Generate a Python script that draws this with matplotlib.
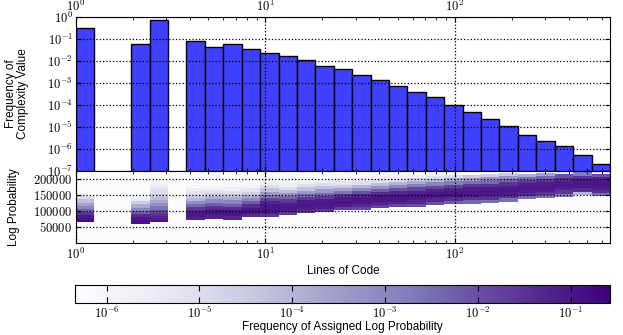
import numpy as np
import matplotlib
matplotlib.use("Agg")
import matplotlib.pyplot as plt
from matplotlib.colors import LogNorm
from matplotlib.ticker import FuncFormatter, FixedLocator

plt.rcParams["font.family"] = ["Liberation Sans", "DejaVu Sans"]
plt.rcParams["mathtext.fontset"] = "cm"
plt.rcParams["font.size"] = 9

# ---------------------------------------------------
# Data
# ---------------------------------------------------
loc_max = 660          # largest lines-of-code value
n_bins = 29            # log-spaced LOC bins

# frequency of complexity value per LOC bin (0 = empty bin)
freq = [0.32, 0, 0, 0.059, 0.73, 0, 0.081, 0.043, 0.057, 0.036,
        0.022, 0.017, 0.0115, 0.0061, 0.0045, 0.0022, 0.0014, 0.00071,
        0.00040, 0.00023, 9.6e-5, 4.8e-5, 2.4e-5, 1.05e-5, 4.4e-6,
        2.2e-6, 1.4e-6, 5.5e-7, 2.1e-7]

# log probability histogram per LOC bin: lowest value and log10 frequency
# of consecutive 10000-wide log probability cells going upward
logp_step = 10000
heat_lo = [66000, None, None, 60000, 64000, None, 71000, 76000, 73000, 80000,
           80000, 86000, 93000, 97000, 102000, 102000, 108000, 111000,
           113000, 119000, 122000, 123000, 125000, 129000, 136000, 139000,
           144000, 150000, 146000]
heat_logf = [
    [-0.8, -1.0, -1.5, -2.3, -3.0, -3.6, -4.2, -5.0],
    [],
    [],
    [-0.9, -1.0, -1.4, -2.2, -3.0, -3.8, -4.6, -5.5],
    [-1.0, -1.2, -1.5, -2.0, -2.6, -3.2, -3.7, -4.2, -4.6, -5.0, -5.3, -5.6, -5.9, -6.1],
    [],
    [-1.2, -1.0, -1.1, -1.6, -2.4, -3.2, -4.0, -4.6, -5.2, -5.6, -6.0, -6.2],
    [-1.2, -1.0, -1.1, -1.5, -2.3, -3.1, -3.9, -4.6, -5.2, -5.8, -6.1],
    [-1.3, -1.0, -1.0, -1.4, -2.2, -3.0, -3.8, -4.5, -5.1, -5.6, -6.0, -6.2],
    [-1.4, -1.0, -1.0, -1.4, -2.2, -3.0, -3.8, -4.6, -5.3, -5.9, -6.2],
    [-1.6, -1.1, -1.0, -1.0, -1.2, -1.8, -2.6, -3.5, -4.3, -5.0, -5.6, -6.1],
    [-1.6, -1.1, -1.0, -1.1, -1.6, -2.4, -3.3, -4.2, -5.0, -5.6, -6.0],
    [-1.6, -1.1, -1.0, -1.1, -1.6, -2.5, -3.4, -4.3, -5.0, -5.7],
    [-1.6, -1.1, -1.0, -1.1, -1.6, -2.5, -3.4, -4.3, -5.0, -5.7],
    [-1.7, -1.1, -1.0, -1.1, -1.6, -2.6, -3.6, -4.5, -5.3, -5.9],
    [-1.9, -1.3, -1.0, -1.0, -1.3, -2.0, -3.0, -4.0, -5.0, -5.8],
    [-1.8, -1.2, -1.0, -1.0, -1.4, -2.2, -3.2, -4.2, -5.1, -5.8],
    [-1.9, -1.2, -1.0, -1.0, -1.3, -2.0, -3.0, -4.0, -5.0, -5.8],
    [-2.0, -1.3, -1.0, -1.0, -1.2, -1.8, -2.8, -3.8, -4.8, -5.7],
    [-2.0, -1.3, -1.0, -1.0, -1.2, -1.9, -2.9, -4.0, -5.0, -5.8],
    [-2.2, -1.4, -1.0, -1.0, -1.2, -1.8, -2.8, -3.9, -5.0],
    [-2.4, -1.5, -1.1, -1.0, -1.1, -1.6, -2.5, -3.5, -4.5],
    [-2.5, -1.5, -1.1, -1.0, -1.1, -1.5, -2.4, -3.4, -4.6],
    [-2.5, -1.5, -1.1, -1.0, -1.1, -1.5, -2.3, -3.3, -4.5],
    [-2.5, -1.4, -1.1, -1.0, -1.1, -1.6, -2.6, -3.8],
    [-2.6, -1.5, -1.1, -1.0, -1.1, -1.5, -2.4, -3.6],
    [-2.8, -1.6, -1.2, -1.0, -1.1, -1.4, -2.0, -5.5],
    [-4.0, -1.4, -1.1, -1.0, -1.0, -1.5, -2.8],
    [-2.5, -1.4, -1.1, -1.0, -1.0, -1.3, -2.0, -5.5],
]

logp_ticks = [50000, 100000, 150000, 200000]
cbar_ticks = [1e-6, 1e-5, 1e-4, 1e-3, 1e-2, 1e-1]
freq_min, freq_max = 4.6e-7, 0.265

# ---------------------------------------------------
# Figure
# ---------------------------------------------------
edges = np.logspace(0, np.log10(loc_max), n_bins + 1)
cmap = plt.get_cmap("Purples")
norm = LogNorm(vmin=freq_min, vmax=freq_max)

pow_fmt = FuncFormatter(lambda v, p: r"$10^{%d}$" % round(np.log10(v)))
int_fmt = FuncFormatter(lambda v, p: r"$%d$" % v)

fig = plt.figure(figsize=(6.23, 3.35), dpi=100)
ax_top = fig.add_axes([0.122, 0.490, 0.857, 0.459])
ax_bot = fig.add_axes([0.122, 0.275, 0.857, 0.215])
cax = fig.add_axes([0.121, 0.096, 0.858, 0.053])

# top: histogram of complexity value frequency
heights = np.array(freq)
keep = heights > 0
ax_top.bar(edges[:-1][keep], heights[keep], width=np.diff(edges)[keep],
           align="edge", bottom=1e-9, color="#4040ff", edgecolor="black",
           linewidth=1.0, zorder=2)
ax_top.set_xscale("log")
ax_top.set_yscale("log")
ax_top.set_xlim(1, loc_max)
ax_top.set_ylim(1e-7, 1)
ax_top.yaxis.set_major_locator(FixedLocator([10.0 ** k for k in range(-7, 1)]))
ax_top.xaxis.set_major_formatter(pow_fmt)
ax_top.yaxis.set_major_formatter(pow_fmt)
ax_top.tick_params(which="both", direction="in", top=True, bottom=True,
                   left=True, right=True, labeltop=True, labelbottom=False,
                   pad=2)
ax_top.tick_params(which="minor", left=False, right=False)
ax_top.grid(True, which="major", linestyle=":", color="black", linewidth=0.9)
ax_top.set_axisbelow(False)
ax_top.set_ylabel("Frequency of\nComplexity Value", fontsize=8.5,
                  linespacing=1.0)
ax_top.yaxis.set_label_coords(-0.088, 0.5)

# bottom: distribution of assigned log probability per LOC bin
ax_bot.set_facecolor(cmap(0.0))
mesh = None
for i in range(n_bins):
    if not heat_logf[i]:
        continue
    vals = 10.0 ** np.array(heat_logf[i])
    yedges = heat_lo[i] + logp_step * np.arange(len(vals) + 1)
    mesh = ax_bot.pcolormesh(edges[i:i + 2], yedges, vals.reshape(-1, 1),
                             cmap=cmap, norm=norm, zorder=1)
ax_bot.set_xscale("log")
ax_bot.set_xlim(1, loc_max)
ax_bot.set_ylim(0, 225000)
ax_bot.yaxis.set_major_locator(FixedLocator(logp_ticks))
ax_bot.xaxis.set_major_formatter(pow_fmt)
ax_bot.yaxis.set_major_formatter(int_fmt)
ax_bot.tick_params(which="both", direction="in", top=True, bottom=True,
                   left=True, right=True, pad=3)
ax_bot.grid(True, which="major", linestyle=":", color="black", linewidth=0.9)
ax_bot.set_axisbelow(False)
ax_bot.set_xlabel("Lines of Code", fontsize=8.5, labelpad=2)
ax_bot.set_ylabel("Log Probability", fontsize=8.5)
ax_bot.yaxis.set_label_coords(-0.105, 0.5)

# colorbar
cbar = fig.colorbar(mesh, cax=cax, orientation="horizontal")
cbar.set_ticks(cbar_ticks)
cbar.ax.xaxis.set_major_formatter(pow_fmt)
cbar.ax.minorticks_off()
cax.tick_params(direction="in", top=True, bottom=True, length=4, pad=2)
cbar.set_label("Frequency of Assigned Log Probability", fontsize=8.5,
               labelpad=0)

plt.savefig("out.png", dpi=100)
